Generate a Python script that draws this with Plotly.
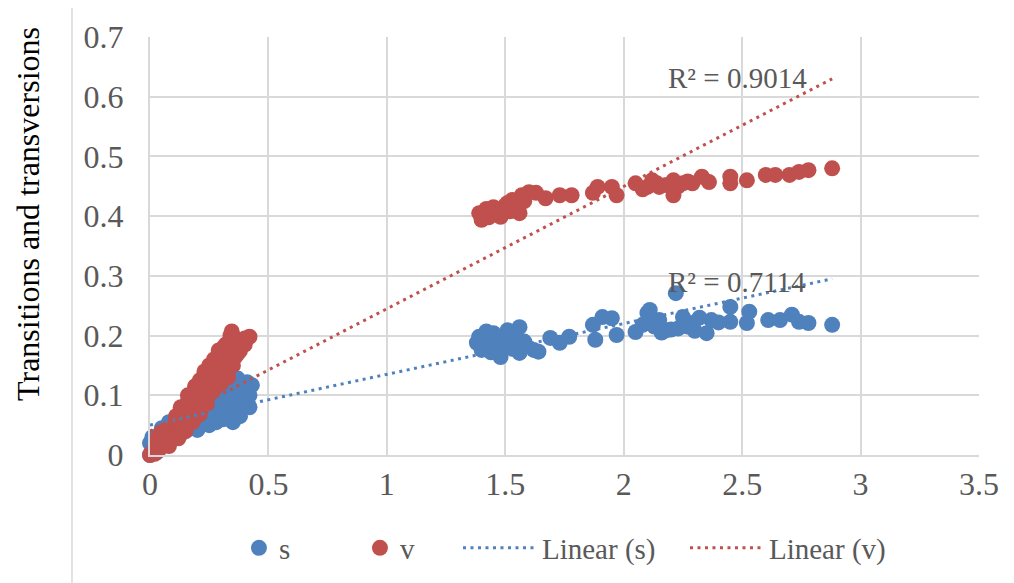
import plotly.graph_objects as go

# ---------------- data ----------------
s_x_low = [0.00, 0.00, 0.01, 0.01, 0.02, 0.03, 0.03, 0.04, 0.05, 0.05, 0.06, 0.07, 0.08, 0.08, 0.09,
           0.10, 0.11, 0.12, 0.13, 0.14, 0.15, 0.16, 0.17, 0.18, 0.19, 0.20, 0.21, 0.22, 0.23, 0.24,
           0.25, 0.26, 0.27, 0.28, 0.29, 0.30, 0.31, 0.32, 0.33, 0.34, 0.35, 0.35, 0.36, 0.37, 0.38,
           0.39, 0.40, 0.41, 0.43, 0.36, 0.38, 0.42, 0.42, 0.28, 0.33, 0.37, 0.40, 0.31, 0.25, 0.20]
s_y_low = [0.000, 0.020, 0.030, 0.010, 0.025, 0.020, 0.005, 0.030, 0.045, 0.015, 0.025, 0.040, 0.055, 0.020, 0.035,
           0.050, 0.030, 0.045, 0.035, 0.050, 0.040, 0.060, 0.045, 0.055, 0.050, 0.065, 0.055, 0.070, 0.060, 0.075,
           0.065, 0.060, 0.080, 0.070, 0.090, 0.075, 0.100, 0.085, 0.110, 0.070, 0.055, 0.095, 0.115, 0.080, 0.100,
           0.120, 0.105, 0.122, 0.117, 0.125, 0.065, 0.080, 0.100, 0.055, 0.120, 0.128, 0.115, 0.060, 0.050, 0.042]
s_x_high = [1.39, 1.38, 1.40, 1.45, 1.48, 1.51, 1.52, 1.56, 1.56, 1.62, 1.64, 1.69, 1.73, 1.77, 1.87,
            1.88, 1.91, 1.95, 1.97, 2.05, 2.10, 2.11, 2.22, 2.10, 2.15, 2.18, 2.25, 2.29, 2.35, 2.37,
            2.45, 2.45, 2.52, 2.53, 2.61, 2.66, 2.71, 2.74, 2.78, 2.88, 1.43, 1.47, 1.50, 1.54, 1.42,
            2.13, 2.20, 2.27, 2.32, 1.58, 1.46, 1.41, 1.44, 1.49, 1.53, 1.55, 1.59, 2.08, 2.16, 2.23,
            2.30, 2.40]
s_y_high = [0.198, 0.188, 0.176, 0.204, 0.164, 0.209, 0.188, 0.214, 0.171, 0.176, 0.173, 0.196, 0.188, 0.198, 0.218,
            0.193, 0.231, 0.229, 0.201, 0.206, 0.238, 0.243, 0.271, 0.221, 0.226, 0.209, 0.231, 0.221, 0.204, 0.226,
            0.248, 0.223, 0.221, 0.240, 0.226, 0.226, 0.235, 0.223, 0.221, 0.218, 0.185, 0.195, 0.180, 0.200, 0.207,
            0.215, 0.210, 0.215, 0.230, 0.190, 0.178, 0.192, 0.172, 0.185, 0.178, 0.195, 0.182, 0.218, 0.205, 0.212,
            0.208, 0.222]

v_x_low = [0.00, 0.01, 0.02, 0.02, 0.03, 0.04, 0.04, 0.05, 0.06, 0.06, 0.07, 0.08, 0.08, 0.09, 0.10,
           0.10, 0.11, 0.12, 0.12, 0.13, 0.14, 0.14, 0.15, 0.16, 0.16, 0.17, 0.18, 0.18, 0.19, 0.20,
           0.20, 0.21, 0.22, 0.22, 0.23, 0.24, 0.24, 0.25, 0.26, 0.26, 0.27, 0.28, 0.28, 0.29, 0.30,
           0.30, 0.31, 0.32, 0.32, 0.33, 0.34, 0.34, 0.35, 0.36, 0.37, 0.38, 0.40, 0.42, 0.345,
           0.05, 0.11, 0.13, 0.16, 0.19, 0.21, 0.23, 0.25, 0.27, 0.29, 0.31, 0.36, 0.38, 0.40,
           0.12, 0.15, 0.18, 0.21, 0.24, 0.27, 0.30, 0.33, 0.35, 0.08, 0.03]
v_y_low = [0.000, 0.004, 0.010, 0.002, 0.015, 0.010, 0.025, 0.018, 0.030, 0.022, 0.035, 0.030, 0.045, 0.040, 0.050,
           0.036, 0.060, 0.045, 0.068, 0.055, 0.075, 0.050, 0.065, 0.090, 0.060, 0.080, 0.100, 0.068, 0.090, 0.110,
           0.078, 0.095, 0.125, 0.080, 0.110, 0.135, 0.095, 0.120, 0.145, 0.105, 0.130, 0.160, 0.115, 0.145, 0.170,
           0.130, 0.155, 0.185, 0.140, 0.165, 0.200, 0.150, 0.180, 0.195, 0.170, 0.190, 0.195, 0.198, 0.207,
           0.040, 0.065, 0.080, 0.100, 0.115, 0.125, 0.140, 0.150, 0.160, 0.175, 0.180, 0.165, 0.175, 0.185,
           0.028, 0.040, 0.055, 0.068, 0.085, 0.110, 0.120, 0.130, 0.150, 0.015, 0.028]
v_x_high = [1.39, 1.40, 1.46, 1.48, 1.53, 1.56, 1.57, 1.63, 1.60, 1.67, 1.73, 1.78, 1.87, 1.89, 1.95,
            1.97, 2.05, 2.10, 2.12, 2.15, 2.21, 2.21, 2.25, 2.29, 2.33, 2.36, 2.45, 2.45, 2.52, 2.60,
            2.64, 2.70, 2.74, 2.78, 2.88, 1.42, 1.44, 1.50, 1.52, 1.55, 1.43, 2.18, 2.08,
            1.41, 1.45, 1.49, 1.54, 1.58, 1.51, 2.14, 2.23, 2.27]
v_y_high = [0.405, 0.394, 0.410, 0.399, 0.427, 0.405, 0.435, 0.439, 0.440, 0.430, 0.435, 0.435, 0.439, 0.449, 0.449,
            0.435, 0.455, 0.449, 0.460, 0.449, 0.435, 0.460, 0.455, 0.455, 0.466, 0.457, 0.466, 0.455, 0.460, 0.469,
            0.469, 0.469, 0.474, 0.477, 0.480, 0.412, 0.402, 0.418, 0.408, 0.420, 0.398, 0.452, 0.445,
            0.400, 0.415, 0.405, 0.415, 0.425, 0.422, 0.455, 0.450, 0.458]

trend_x = [0.0, 2.88]
trend_s_y = [0.050, 0.295]
trend_v_y = [0.040, 0.630]
r2_labels = ["R² = 0.7114", "R² = 0.9014"]
r2_pos_x = [2.48, 2.48]
r2_pos_y = [0.290, 0.632]

x_ticks = [0, 0.5, 1, 1.5, 2, 2.5, 3, 3.5]
x_ticktext = ["0", "0.5", "1", "1.5", "2", "2.5", "3", "3.5"]
y_ticks = [0, 0.1, 0.2, 0.3, 0.4, 0.5, 0.6, 0.7]
y_ticktext = ["0", "0.1", "0.2", "0.3", "0.4", "0.5", "0.6", "0.7"]

BLUE = "#4F81BD"
RED = "#C0504D"
TXT = "#595959"
GRID = "#D9D9D9"
FONT = "Liberation Serif"

fig = go.Figure()
fig.add_trace(go.Scatter(x=s_x_low + s_x_high, y=s_y_low + s_y_high, mode="markers", name="s",
                         marker=dict(color=BLUE, size=16), cliponaxis=False, legend="legend"))
fig.add_trace(go.Scatter(x=v_x_low + v_x_high, y=v_y_low + v_y_high, mode="markers", name="v",
                         marker=dict(color=RED, size=16), cliponaxis=False, legend="legend"))
fig.add_trace(go.Scatter(x=trend_x, y=trend_s_y, mode="lines", name="Linear (s)",
                         line=dict(color=BLUE, width=3, dash="3px,4.5px"), legend="legend2"))
fig.add_trace(go.Scatter(x=trend_x, y=trend_v_y, mode="lines", name="Linear (v)",
                         line=dict(color=RED, width=3, dash="3px,4.5px"), legend="legend2"))

for t, xx, yy in zip(r2_labels, r2_pos_x, r2_pos_y):
    fig.add_annotation(x=xx, y=yy, xref="x", yref="y", text=t, showarrow=False,
                       font=dict(family=FONT, size=29, color=TXT), xanchor="center", yanchor="middle")

fig.add_annotation(x=-0.147, y=0.577, xref="paper", yref="paper", text="Transitions and transversions",
                   textangle=-90, showarrow=False, font=dict(family=FONT, size=32, color="#000000"),
                   xanchor="center", yanchor="middle")

# chart area border (left edge)
fig.add_shape(type="line", xref="paper", yref="paper", x0=-0.0941, x1=-0.0941, y0=-0.4, y1=1.2,
              line=dict(color=GRID, width=1.5))

axis_common = dict(showgrid=True, gridcolor=GRID, gridwidth=2, zeroline=False, showline=True,
                   linecolor=GRID, linewidth=2, tickfont=dict(family=FONT, size=32, color=TXT),
                   ticks="", fixedrange=True)
fig.update_layout(
    width=1006, height=575, autosize=False,
    margin=dict(l=142, r=35, t=29, b=128, autoexpand=False),
    paper_bgcolor="white", plot_bgcolor="white",
    xaxis=dict(range=[0, 3.5], tickvals=x_ticks, ticktext=x_ticktext, **axis_common),
    yaxis=dict(range=[0, 0.7], tickvals=y_ticks, ticktext=y_ticktext, ticklabelstandoff=18, **axis_common),
    legend=dict(orientation="h", x=0.1073, xanchor="left", y=-0.2225, yanchor="middle",
                font=dict(family=FONT, size=29, color=TXT), entrywidth=76, entrywidthmode="pixels",
                bgcolor="rgba(0,0,0,0)"),
    legend2=dict(orientation="h", x=0.3715, xanchor="left", y=-0.2225, yanchor="middle",
                 font=dict(family=FONT, size=29, color=TXT), entrywidth=138, entrywidthmode="pixels",
                 itemwidth=74, bgcolor="rgba(0,0,0,0)"),
    showlegend=True,
)

fig.write_html("out.html")
